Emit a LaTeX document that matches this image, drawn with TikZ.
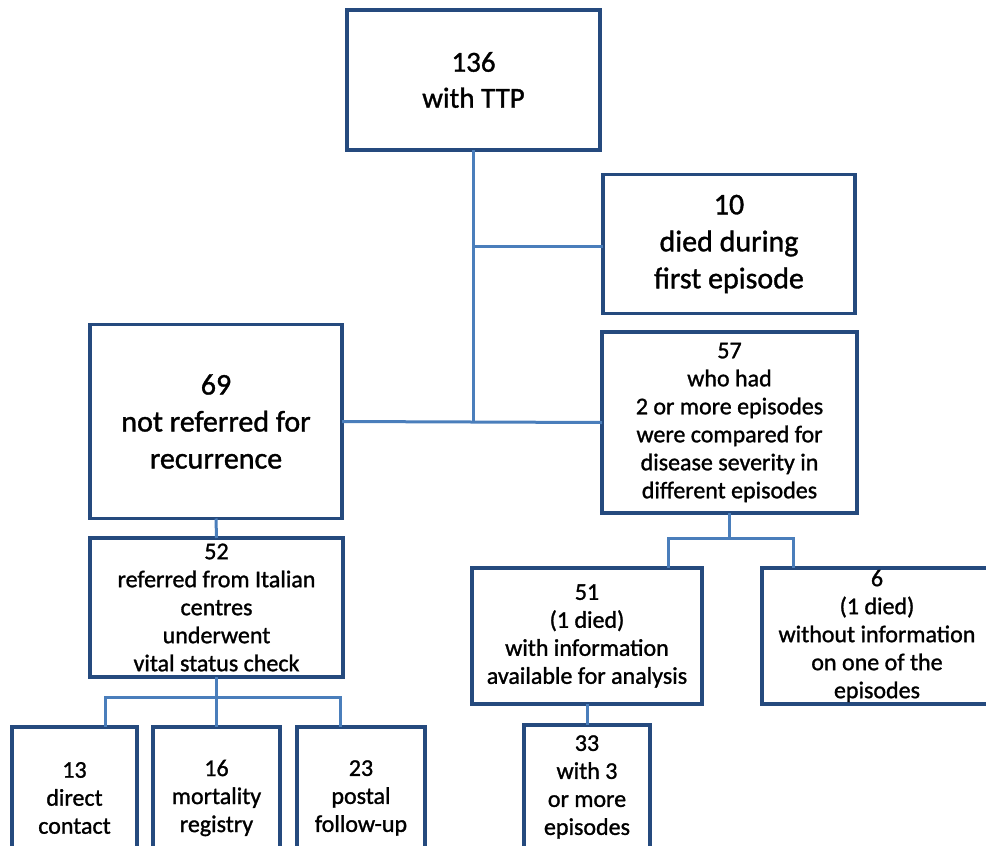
\documentclass[tikz,border=0pt]{standalone}
\usepackage{fontspec}
\setmainfont{Carlito}[FakeBold=1.2]
\definecolor{boxblue}{HTML}{254A7E}
\definecolor{lineblue}{HTML}{4A7EBB}
\begin{document}
\begin{tikzpicture}[x=1pt,y=-1pt,
  box/.style={draw=boxblue, line width=3.2pt, fill=white, rectangle, inner sep=0pt, outer sep=0pt, align=center, text=black},
  bigtext/.style={font=\fontsize{29}{36}\selectfont},
  medtext/.style={font=\fontsize{30}{37}\selectfont},
  smalltext/.style={font=\fontsize{24}{28}\selectfont},
  conn/.style={draw=lineblue, line width=3pt}]
\useasboundingbox (0,0) rectangle (986,846);
\clip (0,0) rectangle (986,846);
% nodes
\node[box,bigtext,minimum width=253pt,minimum height=140pt] (t136) at (473.5,80) {136\\with TTP};
\node[box,medtext,minimum width=252pt,minimum height=139pt] (d10) at (729,244) {10\\died during\\first episode};
\node[box,medtext,minimum width=252pt,minimum height=194pt] (n69) at (216,421.5) {69\\not referred for\\recurrence};
\node[box,smalltext,minimum width=255pt,minimum height=181pt] (s57) at (729.5,422.5) {57\\who had\\2 or more episodes\\were compared for\\disease severity in\\different episodes};
\node[box,smalltext,minimum width=253pt,minimum height=139pt] (r52) at (216.5,607.5) {52\\referred from Italian\\centres\\underwent\\vital status check};
\node[box,smalltext,minimum width=230pt,minimum height=136pt] (a51) at (587,636) {51\\(1 died)\\with information\\available for analysis};
\node[box,smalltext,minimum width=230pt,minimum height=136pt] (w6) at (877,636) {6\\(1 died)\\without information\\on one of the\\episodes};
\node[box,smalltext,minimum width=126pt,minimum height=124pt] (e33) at (587,787) {33\\with 3\\or more\\episodes};
\node[box,smalltext,minimum width=125pt,minimum height=142pt] (b13) at (74.5,798) {13\\direct\\contact};
\node[box,smalltext,minimum width=127pt,minimum height=142pt] (b16) at (216.5,798) {16\\mortality\\registry};
\node[box,smalltext,minimum width=128pt,minimum height=142pt] (b23) at (361,798) {23\\postal\\follow-up};
% junction coordinates
\coordinate (j10) at (473.5,246);
\coordinate (h1) at (105,697);
\coordinate (h2) at (340,697);
\coordinate (k1) at (668,538);
\coordinate (k2) at (793,538);
% connectors
\draw[conn] (t136.south) -- (t136.south |- n69.east);
\draw[conn] (j10) -- (j10 -| d10.west);
\draw[conn] (n69.east) -- (s57.west);
\draw[conn] (n69.south) -- (r52.north);
\draw[conn] (r52.south) -- (b16.north);
\draw[conn] (h1 |- b13.north) -- (h1) -- (h2) -- (h2 |- b23.north);
\draw[conn] (s57.south) -- (s57.south |- k1);
\draw[conn] (k1 |- a51.north) -- (k1) -- (k2) -- (k2 |- w6.north);
\draw[conn] (a51.south) -- (e33.north);
\end{tikzpicture}
\end{document}
